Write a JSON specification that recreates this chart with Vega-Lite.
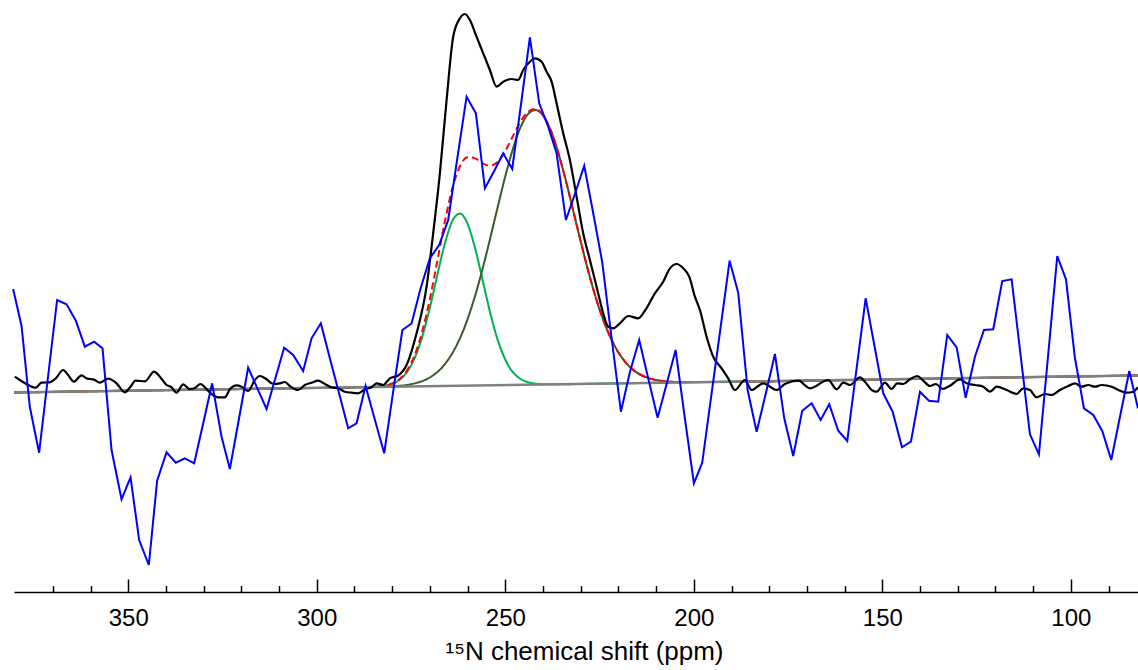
{
  "$schema": "https://vega.github.io/schema/vega-lite/v6.json",
  "width": 1124,
  "height": 592,
  "autosize": "none",
  "padding": {"left": 14, "top": 0, "right": 0, "bottom": 78},
  "background": "white",
  "config": {"view": {"stroke": null}},
  "datasets": {
    "fit": [
      {"ppm": 380.3, "green": 0, "olive": 0, "sum": 0},
      {"ppm": 330, "green": 2.9, "olive": 2.9, "sum": 2.9},
      {"ppm": 300, "green": 4.6, "olive": 4.6, "sum": 4.6},
      {"ppm": 290, "green": 5.1, "olive": 5.1, "sum": 5.1},
      {"ppm": 288, "green": 5.3, "olive": 5.3, "sum": 5.3},
      {"ppm": 286, "green": 5.5, "olive": 5.4, "sum": 5.5},
      {"ppm": 284, "green": 5.9, "olive": 5.6, "sum": 6.0},
      {"ppm": 282, "green": 6.7, "olive": 5.8, "sum": 6.9},
      {"ppm": 280, "green": 8.6, "olive": 6.2, "sum": 9.1},
      {"ppm": 278, "green": 12.7, "olive": 6.7, "sum": 13.6},
      {"ppm": 276, "green": 20.8, "olive": 7.6, "sum": 22.4},
      {"ppm": 274, "green": 34.7, "olive": 9.1, "sum": 37.7},
      {"ppm": 272, "green": 56.1, "olive": 11.4, "sum": 61.4},
      {"ppm": 270, "green": 84.9, "olive": 15.0, "sum": 93.6},
      {"ppm": 268, "green": 118.1, "olive": 20.4, "sum": 132.1},
      {"ppm": 266, "green": 149.5, "olive": 28.4, "sum": 171.4},
      {"ppm": 264, "green": 171.9, "olive": 39.4, "sum": 204.7},
      {"ppm": 262, "green": 178.9, "olive": 54.3, "sum": 226.5},
      {"ppm": 260, "green": 168.7, "olive": 73.4, "sum": 235.3},
      {"ppm": 258, "green": 144.3, "olive": 96.8, "sum": 234.1},
      {"ppm": 256, "green": 112.1, "olive": 124.1, "sum": 229.1},
      {"ppm": 254, "green": 79.6, "olive": 154.2, "sum": 226.6},
      {"ppm": 252, "green": 52.4, "olive": 185.7, "sum": 230.8},
      {"ppm": 250, "green": 32.7, "olive": 216.2, "sum": 241.5},
      {"ppm": 248, "green": 20.3, "olive": 243.4, "sum": 256.2},
      {"ppm": 246, "green": 13.5, "olive": 264.8, "sum": 270.7},
      {"ppm": 244, "green": 10.2, "olive": 278.3, "sum": 280.7},
      {"ppm": 242, "green": 8.8, "olive": 282.6, "sum": 283.5},
      {"ppm": 240, "green": 8.3, "olive": 277.1, "sum": 277.4},
      {"ppm": 238, "green": 8.2, "olive": 262.5, "sum": 262.6},
      {"ppm": 236, "green": 8.2, "olive": 240.4, "sum": 240.4},
      {"ppm": 234, "green": 8.3, "olive": 212.7, "sum": 212.7},
      {"ppm": 232, "green": 8.4, "olive": 182.1, "sum": 182.1},
      {"ppm": 230, "green": 8.6, "olive": 151.0, "sum": 151.0},
      {"ppm": 228, "green": 8.7, "olive": 121.4, "sum": 121.4},
      {"ppm": 226, "green": 8.8, "olive": 94.8, "sum": 94.8},
      {"ppm": 224, "green": 8.9, "olive": 72.3, "sum": 72.3},
      {"ppm": 222, "green": 9.0, "olive": 54.1, "sum": 54.1},
      {"ppm": 220, "green": 9.1, "olive": 40.0, "sum": 40.0},
      {"ppm": 218, "green": 9.2, "olive": 29.7, "sum": 29.7},
      {"ppm": 216, "green": 9.3, "olive": 22.4, "sum": 22.4},
      {"ppm": 214, "green": 9.5, "olive": 17.5, "sum": 17.5},
      {"ppm": 212, "green": 9.6, "olive": 14.4, "sum": 14.4},
      {"ppm": 210, "green": 9.7, "olive": 12.4, "sum": 12.4},
      {"ppm": 208, "green": 9.8, "olive": 11.3, "sum": 11.3},
      {"ppm": 206, "green": 9.9, "olive": 10.7, "sum": 10.7},
      {"ppm": 204, "green": 10.0, "olive": 10.4, "sum": 10.4},
      {"ppm": 200, "green": 10.3, "olive": 10.4, "sum": 10.4},
      {"ppm": 150, "green": 13.1, "olive": 13.1, "sum": 13.1},
      {"ppm": 82.2, "green": 17.0, "olive": 17.0, "sum": 17.0}
    ],
    "base": [
      {"ppm": 380.3, "I": 0},
      {"ppm": 82.2, "I": 17}
    ],
    "black": [
      {"ppm": 380.08, "I": 15.8}, {"ppm": 378.76, "I": 12.5}, {"ppm": 376.98, "I": 8.5}, {"ppm": 374.51, "I": 4.8},
      {"ppm": 373.0, "I": 9.8}, {"ppm": 370.8, "I": 10.2}, {"ppm": 369.21, "I": 14.2}, {"ppm": 367.27, "I": 22.5},
      {"ppm": 365.94, "I": 17.5}, {"ppm": 364.43, "I": 10.8}, {"ppm": 362.39, "I": 17.2}, {"ppm": 360.9, "I": 13.8},
      {"ppm": 359.31, "I": 13.2}, {"ppm": 357.54, "I": 9.8}, {"ppm": 355.33, "I": 13.8}, {"ppm": 353.11, "I": 9.2},
      {"ppm": 350.9, "I": 0.2}, {"ppm": 349.39, "I": 5.8}, {"ppm": 348.07, "I": 11.8}, {"ppm": 345.6, "I": 11.2},
      {"ppm": 343.13, "I": 20.8}, {"ppm": 341.62, "I": 15.8}, {"ppm": 339.84, "I": 7.5}, {"ppm": 338.52, "I": 5.2},
      {"ppm": 337.19, "I": -0.2}, {"ppm": 335.44, "I": 8.2}, {"ppm": 333.66, "I": 3.5}, {"ppm": 332.34, "I": 4.5},
      {"ppm": 330.82, "I": 8.5}, {"ppm": 329.68, "I": 5.2}, {"ppm": 327.91, "I": -1.5}, {"ppm": 326.16, "I": -4.8},
      {"ppm": 324.38, "I": -4.8}, {"ppm": 323.05, "I": 3.2}, {"ppm": 321.28, "I": 7.2}, {"ppm": 319.95, "I": 5.8},
      {"ppm": 318.2, "I": 1.5}, {"ppm": 316.42, "I": 12.5}, {"ppm": 315.1, "I": 16.5}, {"ppm": 313.32, "I": 13.2},
      {"ppm": 311.57, "I": 8.5}, {"ppm": 309.79, "I": 9.2}, {"ppm": 308.46, "I": 10.5}, {"ppm": 307.14, "I": 6.5},
      {"ppm": 304.94, "I": 2.5}, {"ppm": 303.16, "I": 7.5}, {"ppm": 301.38, "I": 9.8}, {"ppm": 299.63, "I": 11.8},
      {"ppm": 297.85, "I": 8.5}, {"ppm": 296.08, "I": 5.2}, {"ppm": 294.33, "I": 4.2}, {"ppm": 292.55, "I": 0.8},
      {"ppm": 290.77, "I": -0.2}, {"ppm": 289.02, "I": -0.8}, {"ppm": 287.24, "I": 3.2}, {"ppm": 285.47, "I": 5.2},
      {"ppm": 284.14, "I": 9.2}, {"ppm": 282.39, "I": 7.5}, {"ppm": 280.61, "I": 14.2}, {"ppm": 278.41, "I": 17},
      {"ppm": 276.18, "I": 27.5}, {"ppm": 273.53, "I": 59.2}, {"ppm": 270.88, "I": 105.8}, {"ppm": 269.13, "I": 159.2},
      {"ppm": 267.35, "I": 219.2}, {"ppm": 265.57, "I": 292.5}, {"ppm": 263.82, "I": 355.8}, {"ppm": 262.04, "I": 374.2},
      {"ppm": 260.72, "I": 378.5}, {"ppm": 259.39, "I": 372.5}, {"ppm": 257.62, "I": 355.8}, {"ppm": 255.86, "I": 339.2},
      {"ppm": 254.09, "I": 322.5}, {"ppm": 252.31, "I": 305.8}, {"ppm": 250.56, "I": 310.8}, {"ppm": 248.33, "I": 313.5},
      {"ppm": 246.58, "I": 312.5}, {"ppm": 245.25, "I": 322.5}, {"ppm": 243.48, "I": 330.8}, {"ppm": 242.15, "I": 334.2},
      {"ppm": 240.37, "I": 330.8}, {"ppm": 239.05, "I": 320.8}, {"ppm": 237.72, "I": 310.8}, {"ppm": 236.4, "I": 289.2},
      {"ppm": 234.64, "I": 259.2}, {"ppm": 232.87, "I": 232.5}, {"ppm": 231.09, "I": 195.8}, {"ppm": 229.34, "I": 159.2},
      {"ppm": 227.56, "I": 132.5}, {"ppm": 225.79, "I": 105.8}, {"ppm": 224.04, "I": 79.2}, {"ppm": 222.71, "I": 65.8},
      {"ppm": 221.38, "I": 64.2}, {"ppm": 219.61, "I": 69.2}, {"ppm": 217.4, "I": 76.5}, {"ppm": 214.75, "I": 74.2},
      {"ppm": 212.97, "I": 81.8}, {"ppm": 210.32, "I": 99.2}, {"ppm": 208.12, "I": 110.8}, {"ppm": 206.34, "I": 124.2},
      {"ppm": 204.57, "I": 128.5}, {"ppm": 202.81, "I": 124.2}, {"ppm": 201.22, "I": 115.8}, {"ppm": 199.71, "I": 95.8},
      {"ppm": 198.38, "I": 82.5}, {"ppm": 196.61, "I": 55.8}, {"ppm": 194.86, "I": 35.8}, {"ppm": 192.63, "I": 24.2},
      {"ppm": 190.88, "I": 14.2}, {"ppm": 189.1, "I": 2.5}, {"ppm": 186.45, "I": 12.5}, {"ppm": 184.67, "I": 2.5},
      {"ppm": 181.59, "I": 9.2}, {"ppm": 178.04, "I": 2.5}, {"ppm": 175.84, "I": 8.5}, {"ppm": 172.31, "I": 11.8},
      {"ppm": 169.21, "I": 4.2}, {"ppm": 164.35, "I": 12.5}, {"ppm": 162.12, "I": 3.2}, {"ppm": 160.37, "I": 9.8},
      {"ppm": 158.6, "I": 7.5}, {"ppm": 155.94, "I": 15.2}, {"ppm": 154.62, "I": 10.8}, {"ppm": 152.84, "I": 2.5},
      {"ppm": 151.51, "I": 0.8}, {"ppm": 149.31, "I": 9.8}, {"ppm": 147.54, "I": 3.5}, {"ppm": 146.05, "I": 9.2},
      {"ppm": 144.46, "I": 8.5}, {"ppm": 142.68, "I": 13.2}, {"ppm": 140.75, "I": 16.5}, {"ppm": 139.15, "I": 11.8},
      {"ppm": 137.38, "I": 6.5}, {"ppm": 135.79, "I": 8.5}, {"ppm": 134.01, "I": 3.5}, {"ppm": 132.07, "I": 6.8},
      {"ppm": 129.42, "I": 13.2}, {"ppm": 127.64, "I": 9.2}, {"ppm": 125.44, "I": 7.5}, {"ppm": 123.24, "I": 5.8},
      {"ppm": 121.46, "I": 0.8}, {"ppm": 119.69, "I": 5.8}, {"ppm": 117.03, "I": 2.5}, {"ppm": 114.38, "I": -1.5},
      {"ppm": 112.63, "I": 4.2}, {"ppm": 110.85, "I": 2.5}, {"ppm": 109.08, "I": -4.8}, {"ppm": 106.87, "I": -1.5},
      {"ppm": 105.1, "I": -2.5}, {"ppm": 102.9, "I": 2.5}, {"ppm": 100.69, "I": 6.5}, {"ppm": 98.92, "I": 9.2},
      {"ppm": 97.14, "I": 5.8}, {"ppm": 95.39, "I": 7.5}, {"ppm": 93.61, "I": 5.8}, {"ppm": 91.83, "I": 7.5},
      {"ppm": 89.18, "I": 5.8}, {"ppm": 86.98, "I": 1.8}, {"ppm": 85.2, "I": -0.2}, {"ppm": 83.45, "I": 0.8},
      {"ppm": 82.21, "I": 5.2}
    ],
    "blue": [
      {"ppm": 380.53, "I": 103.5}, {"ppm": 378.3, "I": 66.5}, {"ppm": 376.1, "I": -14.5}, {"ppm": 373.64, "I": -60.2},
      {"ppm": 371.25, "I": 16.5}, {"ppm": 368.86, "I": 92.5}, {"ppm": 366.37, "I": 88.2}, {"ppm": 363.9, "I": 71.8},
      {"ppm": 361.51, "I": 45.8}, {"ppm": 359.05, "I": 50.8}, {"ppm": 356.82, "I": 44.2}, {"ppm": 354.43, "I": -57.5},
      {"ppm": 351.78, "I": -106.8}, {"ppm": 349.39, "I": -84.8}, {"ppm": 347.11, "I": -147.5}, {"ppm": 344.54, "I": -172.5},
      {"ppm": 342.34, "I": -88.2}, {"ppm": 339.84, "I": -59.8}, {"ppm": 337.38, "I": -70.2}, {"ppm": 334.99, "I": -65.8},
      {"ppm": 332.52, "I": -70.8}, {"ppm": 330.16, "I": -31.5}, {"ppm": 327.75, "I": 9.2}, {"ppm": 325.25, "I": -44.2},
      {"ppm": 323.05, "I": -76.5}, {"ppm": 320.61, "I": -25.8}, {"ppm": 318.2, "I": 24.8}, {"ppm": 315.76, "I": 4.2},
      {"ppm": 313.32, "I": -16.5}, {"ppm": 310.98, "I": 14.2}, {"ppm": 308.65, "I": 44.8}, {"ppm": 306.26, "I": 37.5},
      {"ppm": 303.61, "I": 21.5}, {"ppm": 301.38, "I": 54.2}, {"ppm": 298.92, "I": 69.2}, {"ppm": 296.53, "I": 34.2},
      {"ppm": 294.09, "I": -0.8}, {"ppm": 291.67, "I": -35.8}, {"ppm": 289.45, "I": -30.8}, {"ppm": 287.06, "I": 6.5},
      {"ppm": 284.59, "I": -27.2}, {"ppm": 282.12, "I": -60.8}, {"ppm": 279.74, "I": 0.8}, {"ppm": 277.3, "I": 62.5},
      {"ppm": 274.86, "I": 69}, {"ppm": 272.44, "I": 104.5}, {"ppm": 270.0, "I": 134.2}, {"ppm": 267.54, "I": 147.5},
      {"ppm": 265.15, "I": 172.5}, {"ppm": 262.71, "I": 234.5}, {"ppm": 260.27, "I": 295.8}, {"ppm": 257.8, "I": 279.2},
      {"ppm": 255.41, "I": 204.2}, {"ppm": 252.95, "I": 221.5}, {"ppm": 250.56, "I": 239.2}, {"ppm": 248.17, "I": 223.5},
      {"ppm": 245.79, "I": 289.5}, {"ppm": 243.48, "I": 355.2}, {"ppm": 241.01, "I": 289.2}, {"ppm": 238.62, "I": 265.8},
      {"ppm": 236.4, "I": 239.2}, {"ppm": 233.93, "I": 172.5}, {"ppm": 231.54, "I": 198.5}, {"ppm": 229.07, "I": 226.8},
      {"ppm": 226.69, "I": 179.5}, {"ppm": 224.3, "I": 130.5}, {"ppm": 221.91, "I": 57.5}, {"ppm": 219.34, "I": -19.2},
      {"ppm": 216.95, "I": 20.5}, {"ppm": 214.49, "I": 52.5}, {"ppm": 212.05, "I": 13.5}, {"ppm": 209.61, "I": -25.2},
      {"ppm": 207.22, "I": 8.5}, {"ppm": 204.83, "I": 42.5}, {"ppm": 202.42, "I": -24.5}, {"ppm": 199.98, "I": -90.8},
      {"ppm": 197.77, "I": -70.2}, {"ppm": 195.36, "I": -2.9}, {"ppm": 192.92, "I": 64.5}, {"ppm": 190.51, "I": 131.8},
      {"ppm": 188.23, "I": 99.8}, {"ppm": 185.73, "I": 2.5}, {"ppm": 183.35, "I": -39.2}, {"ppm": 180.88, "I": -0.5},
      {"ppm": 178.49, "I": 38.5}, {"ppm": 176.02, "I": -25.8}, {"ppm": 173.64, "I": -63.5}, {"ppm": 171.25, "I": -18.2},
      {"ppm": 168.76, "I": -10.8}, {"ppm": 166.37, "I": -27.5}, {"ppm": 164.09, "I": -11.8}, {"ppm": 161.7, "I": -38.2},
      {"ppm": 159.31, "I": -48.5}, {"ppm": 156.87, "I": 22.8}, {"ppm": 154.43, "I": 94.2}, {"ppm": 152.1, "I": 46.8},
      {"ppm": 149.77, "I": -0.8}, {"ppm": 147.27, "I": -19.2}, {"ppm": 144.8, "I": -54.8}, {"ppm": 142.42, "I": -49.2},
      {"ppm": 140.03, "I": 0.8}, {"ppm": 137.64, "I": -8.2}, {"ppm": 135.18, "I": -9.2}, {"ppm": 132.79, "I": 57.5},
      {"ppm": 130.3, "I": 45.2}, {"ppm": 127.91, "I": -5.2}, {"ppm": 125.44, "I": 35.8}, {"ppm": 123.05, "I": 62.5},
      {"ppm": 120.59, "I": 63.2}, {"ppm": 118.2, "I": 111.5}, {"ppm": 115.71, "I": 113.2}, {"ppm": 113.29, "I": 35.8},
      {"ppm": 110.85, "I": -41.8}, {"ppm": 108.47, "I": -61.8}, {"ppm": 106.03, "I": 37.3}, {"ppm": 103.61, "I": 136.5},
      {"ppm": 101.3, "I": 113.2}, {"ppm": 98.92, "I": 34.2}, {"ppm": 96.53, "I": -15.8}, {"ppm": 94.06, "I": -22.5},
      {"ppm": 91.68, "I": -38.5}, {"ppm": 89.29, "I": -67.5}, {"ppm": 86.9, "I": -22.8}, {"ppm": 84.51, "I": 21.5},
      {"ppm": 82.21, "I": -15.8}
    ]
  },
  "encoding": {
    "x": {
      "field": "ppm",
      "type": "quantitative",
      "scale": {"domain": [82.2, 380.3], "reverse": true, "nice": false, "zero": false},
      "axis": {
        "values": [370, 360, 350, 340, 330, 320, 310, 300, 290, 280, 270, 260, 250, 240, 230, 220, 210, 200, 190, 180, 170, 160, 150, 140, 130, 120, 110, 100, 90],
        "labelExpr": "datum.value % 50 === 0 ? datum.label : ''",
        "grid": false,
        "tickSize": {"condition": {"test": "datum.value % 50 === 0", "value": -13}, "value": -6.5},
        "tickColor": "black",
        "tickWidth": 1.5,
        "domainColor": "black",
        "domainWidth": 1.5,
        "labelFont": "Liberation Sans",
        "labelFontSize": 24,
        "labelColor": "black",
        "labelPadding": 27.5,
        "labelOverlap": false,
        "labelFlush": false,
        "title": "¹⁵N chemical shift (ppm)",
        "titleFont": "Liberation Sans",
        "titleFontSize": 26,
        "titleFontWeight": "normal",
        "titleColor": "black",
        "titleX": 570,
        "titleY": 67,
        "titleBaseline": "alphabetic",
        "titleAlign": "center"
      }
    }
  },
  "layer": [
    {
      "data": {"name": "fit"},
      "mark": {"type": "line", "color": "#00b050", "strokeWidth": 2, "interpolate": "monotone"},
      "encoding": {
        "y": {"field": "green", "type": "quantitative", "scale": {"domain": [-199.5, 392.5], "nice": false, "zero": false}, "axis": null},
        "order": {"field": "ppm", "sort": "descending"}
      }
    },
    {
      "data": {"name": "fit"},
      "mark": {"type": "line", "color": "#3e5a2c", "strokeWidth": 2, "interpolate": "monotone"},
      "encoding": {
        "y": {"field": "olive", "type": "quantitative"},
        "order": {"field": "ppm", "sort": "descending"}
      }
    },
    {
      "data": {"name": "fit"},
      "mark": {"type": "line", "color": "#ff0000", "strokeWidth": 2, "strokeDash": [7, 4], "interpolate": "monotone"},
      "encoding": {
        "y": {"field": "sum", "type": "quantitative"},
        "order": {"field": "ppm", "sort": "descending"}
      }
    },
    {
      "data": {"name": "base"},
      "mark": {"type": "line", "color": "#808080", "strokeWidth": 2.5},
      "encoding": {
        "y": {"field": "I", "type": "quantitative"}
      }
    },
    {
      "data": {"name": "black"},
      "mark": {"type": "line", "color": "#000000", "strokeWidth": 2.2, "interpolate": "monotone"},
      "encoding": {
        "y": {"field": "I", "type": "quantitative"},
        "order": {"field": "ppm", "sort": "descending"}
      }
    },
    {
      "data": {"name": "blue"},
      "mark": {"type": "line", "color": "#0000ff", "strokeWidth": 2},
      "encoding": {
        "y": {"field": "I", "type": "quantitative"},
        "order": {"field": "ppm", "sort": "descending"}
      }
    }
  ]
}
